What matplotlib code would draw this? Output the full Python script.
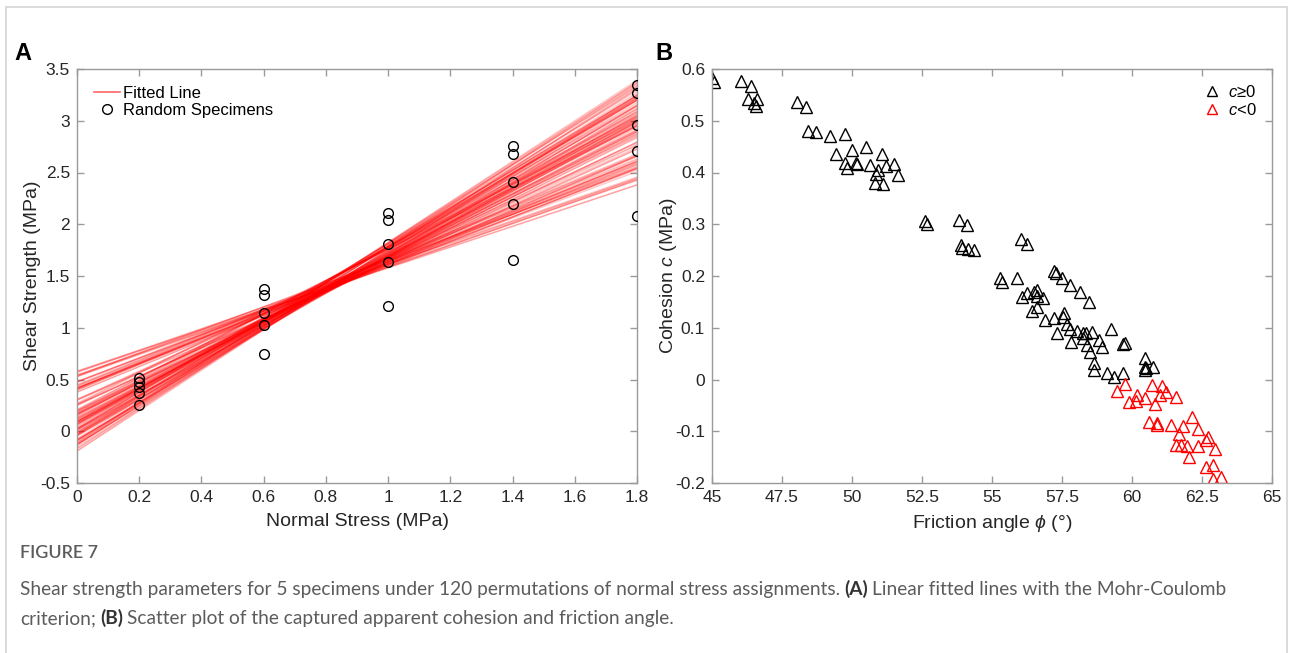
import matplotlib
matplotlib.use("Agg")
import matplotlib.pyplot as plt
import matplotlib.patches as mpatches
from matplotlib.lines import Line2D
import numpy as np

# ---- data ---------------------------------------------------------------
# panel B: apparent friction angle (deg) and cohesion (MPa) of each permutation
phi_deg = [
    45.01, 45.07, 46.04, 46.39, 46.28, 46.60, 46.51, 46.57, 48.04, 48.36,
    48.42, 48.71, 49.23, 49.74, 49.43, 50.01, 50.50, 51.06, 49.76, 49.82,
    50.14, 50.18, 50.64, 50.94, 50.85, 51.21, 51.51, 51.65, 50.83, 51.10,
    52.61, 52.67, 53.81, 54.10, 53.88, 53.93, 54.14, 54.37, 56.03, 56.25,
    55.29, 55.36, 55.89, 57.21, 57.29, 57.51, 57.78, 58.15, 58.46, 56.07,
    56.25, 56.50, 56.60, 56.62, 56.83, 56.42, 56.62, 56.90, 57.21, 57.58,
    57.55, 57.67, 57.79, 57.33, 57.81, 58.03, 58.26, 58.36, 58.56, 58.26,
    58.40, 58.50, 58.83, 58.92, 59.24, 58.65, 58.65, 59.12, 59.37, 59.67,
    59.67, 59.74, 60.46, 60.46, 60.46, 60.49, 60.76,
    59.46, 59.75, 59.88, 60.14, 60.19, 60.46, 60.73, 60.81, 61.06, 61.00,
    61.20, 61.56, 60.62, 60.88, 60.90, 61.38, 61.81, 62.13, 62.35, 61.67,
    61.57, 61.75, 61.95, 62.35, 62.04, 62.64, 62.70, 62.96, 62.63, 62.90,
    62.90, 63.18,
]
cohesion = [
    0.582, 0.574, 0.577, 0.567, 0.542, 0.542, 0.535, 0.528, 0.537, 0.527,
    0.481, 0.479, 0.471, 0.475, 0.436, 0.444, 0.449, 0.435, 0.418, 0.409,
    0.419, 0.416, 0.414, 0.405, 0.398, 0.413, 0.416, 0.395, 0.379, 0.377,
    0.307, 0.300, 0.308, 0.299, 0.260, 0.254, 0.252, 0.250, 0.271, 0.261,
    0.196, 0.188, 0.196, 0.210, 0.205, 0.196, 0.182, 0.169, 0.150, 0.160,
    0.168, 0.170, 0.172, 0.161, 0.158, 0.132, 0.141, 0.115, 0.118, 0.129,
    0.121, 0.107, 0.098, 0.090, 0.072, 0.094, 0.089, 0.090, 0.092, 0.081,
    0.067, 0.053, 0.076, 0.062, 0.098, 0.032, 0.018, 0.013, 0.005, 0.013,
    0.068, 0.071, 0.042, 0.025, 0.018, 0.022, 0.024,
    -0.022, -0.009, -0.043, -0.041, -0.030, -0.036, -0.011, -0.047, -0.012, -0.029,
    -0.025, -0.034, -0.083, -0.084, -0.087, -0.087, -0.089, -0.073, -0.096, -0.106,
    -0.127, -0.127, -0.128, -0.128, -0.149, -0.117, -0.112, -0.135, -0.170, -0.166,
    -0.193, -0.189,
]

# panel A: shear strength of the random specimens at each normal stress
normal_stress = [0.2, 0.6, 1.0, 1.4, 1.8]
tau_02 = [0.51, 0.477, 0.423, 0.368, 0.258]
tau_06 = [1.373, 1.318, 1.141, 1.028, 0.742]
tau_10 = [2.108, 2.037, 1.806, 1.637, 1.209]
tau_14 = [2.759, 2.682, 2.405, 2.192, 1.651]
tau_18 = [3.349, 3.266, 2.962, 2.711, 2.079]

A_XTICKS = [0, 0.2, 0.4, 0.6, 0.8, 1, 1.2, 1.4, 1.6, 1.8]
A_YTICKS = [-0.5, 0, 0.5, 1, 1.5, 2, 2.5, 3, 3.5]
B_XTICKS = [45, 47.5, 50, 52.5, 55, 57.5, 60, 62.5, 65]
B_YTICKS = [-0.2, -0.1, 0, 0.1, 0.2, 0.3, 0.4, 0.5, 0.6]

SPINE = "#9a9a9a"
TXT = "#262626"
CAP = "#5c5c5c"

plt.rcParams["font.family"] = ["Liberation Sans", "DejaVu Sans"]
plt.rcParams["mathtext.fontset"] = "custom"
plt.rcParams["mathtext.it"] = "Liberation Sans:italic"
plt.rcParams["mathtext.rm"] = "Liberation Sans"


def fmt(v):
    return f"{v:g}"


def style_axes(ax, xticks, yticks):
    for s in ax.spines.values():
        s.set_color(SPINE)
        s.set_linewidth(1.0)
    ax.set_xticks(xticks)
    ax.set_yticks(yticks)
    ax.set_xticklabels([fmt(v) for v in xticks])
    ax.set_yticklabels([fmt(v) for v in yticks])
    ax.tick_params(direction="in", top=True, right=True, length=5, width=1,
                   color=SPINE, labelcolor=TXT, labelsize=12.5, pad=5)


fig = plt.figure(figsize=(12.93, 6.53), dpi=100)
W, H = 1293, 653

# light frame round the whole figure
fig.patches.append(mpatches.Rectangle((6 / W, -0.05), 1281 / W, 1.05 - 7 / H,
                                      transform=fig.transFigure, fill=False,
                                      edgecolor="#d4d4d4", linewidth=1.2))

axA = fig.add_axes([77 / W, 1 - 483 / H, 560 / W, 414 / H])
axB = fig.add_axes([712 / W, 1 - 483 / H, 560 / W, 414 / H])

# ---- panel A --------------------------------------------------------------
xs = np.array([0.0, 1.8])
for p, c in zip(phi_deg, cohesion):
    axA.plot(xs, c + xs * np.tan(np.radians(p)), color="red", alpha=0.22,
             lw=1.0, zorder=2)
for s, taus in zip(normal_stress, [tau_02, tau_06, tau_10, tau_14, tau_18]):
    axA.plot([s] * len(taus), taus, "o", mfc="none", mec="black", ms=7,
             mew=1.0, zorder=3)
axA.set_xlim(0, 1.8)
axA.set_ylim(-0.5, 3.5)
style_axes(axA, A_XTICKS, A_YTICKS)
axA.set_xlabel("Normal Stress (MPa)", fontsize=14, color=TXT, labelpad=6)
axA.set_ylabel("Shear Strength (MPa)", fontsize=14, color=TXT, labelpad=-1)
hA = [Line2D([], [], color="red", alpha=0.6, lw=1.2),
      Line2D([], [], marker="o", ls="none", mfc="none", mec="black", ms=7)]
axA.legend(hA, ["Fitted Line", "Random Specimens"], loc="upper left",
           fontsize=12, frameon=False, handlelength=1.6, handletextpad=0.15,
           borderaxespad=0.6, labelspacing=0.15, bbox_to_anchor=(0.0, 1.0))

# ---- panel B --------------------------------------------------------------
phi_a = np.array(phi_deg)
c_a = np.array(cohesion)
pos = c_a >= 0
axB.plot(phi_a[pos], c_a[pos], "^", mfc="none", mec="black", ms=8, mew=1.0)
axB.plot(phi_a[~pos], c_a[~pos], "^", mfc="none", mec="red", ms=8, mew=1.0)
axB.set_xlim(45, 65)
axB.set_ylim(-0.2, 0.6)
style_axes(axB, B_XTICKS, B_YTICKS)
axB.set_xlabel(r"Friction angle $\phi$ (°)", fontsize=14, color=TXT, labelpad=6)
axB.set_ylabel(r"Cohesion $c$ (MPa)", fontsize=14, color=TXT, labelpad=-3)
hB = [Line2D([], [], marker="^", ls="none", mfc="none", mec="black", ms=7),
      Line2D([], [], marker="^", ls="none", mfc="none", mec="red", ms=7)]
axB.legend(hB, [r"$c$≥0", r"$c$<0"], loc="upper right", fontsize=12,
           frameon=False, handlelength=1.2, handletextpad=0.4,
           borderaxespad=0.5, labelspacing=0.1)

# panel letters
fig.text(14 / W, 1 - 60 / H, "A", fontsize=17, fontweight="bold", color="black")
fig.text(655 / W, 1 - 60 / H, "B", fontsize=17, fontweight="bold", color="black")

# ---- caption --------------------------------------------------------------
fig.text(20 / W, 1 - 558 / H, "FIGURE 7", fontsize=13, color=CAP,
         family="Lato", fontweight="semibold")

renderer = fig.canvas.get_renderer()


def run_text(x_px, y_px, parts, size=13.8):
    x = x_px
    for txt, bold in parts:
        t = fig.text(x / W, 1 - y_px / H, txt, fontsize=size, family="Lato",
                     color="#333333" if bold else CAP,
                     fontweight="bold" if bold else "normal")
        bb = t.get_window_extent(renderer)
        x = bb.x1 + 4


run_text(20, 595, [
    ("Shear strength parameters for 5 specimens under 120 permutations of normal stress assignments.", False),
    ("(A)", True),
    ("Linear fitted lines with the Mohr-Coulomb", False),
])
run_text(20, 624, [
    ("criterion;", False),
    ("(B)", True),
    ("Scatter plot of the captured apparent cohesion and friction angle.", False),
])

fig.savefig("out.png", dpi=100, facecolor="white")
